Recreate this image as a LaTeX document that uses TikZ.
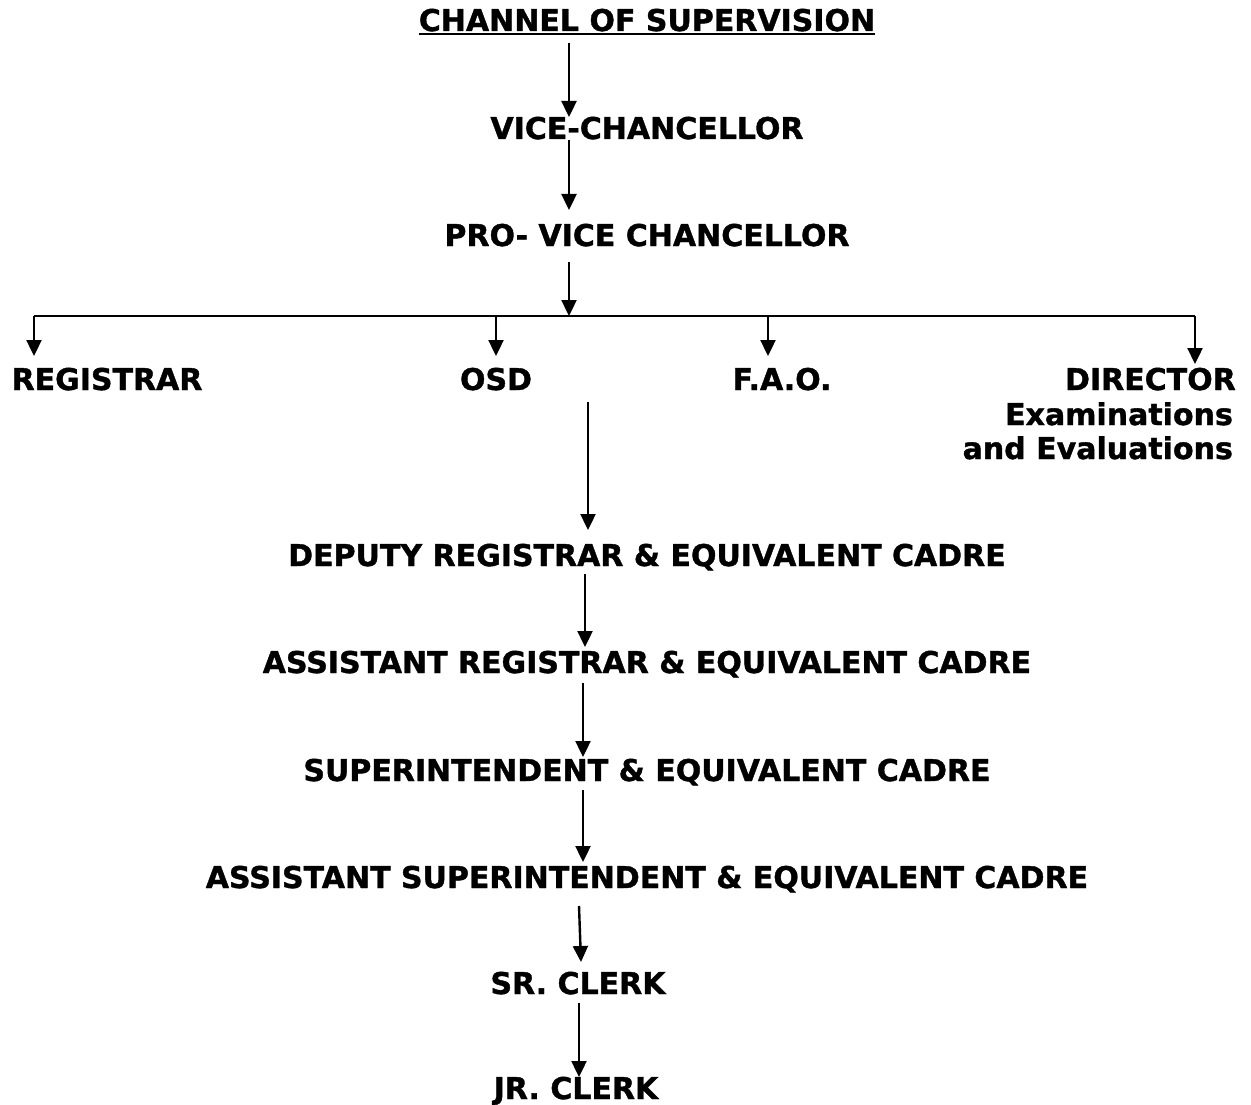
\documentclass[tikz,border=0pt]{standalone}
\usepackage{fontspec}
\setmainfont{DejaVu Sans}[BoldFeatures={FakeBold=1.2}]
\usetikzlibrary{arrows.meta}
\tikzset{
  lbl/.style={font=\bfseries\fontsize{30}{35}\selectfont, inner sep=0pt, anchor=base},
  conn/.style={line width=2.4pt, -{Triangle[length=16pt,width=15pt]}},
  plain/.style={line width=2.2pt}
}
\begin{document}
\begin{tikzpicture}[x=1pt,y=-1pt]
\useasboundingbox (0,0) rectangle (1251,1105);
% texts
\node[lbl] (title) at (647,31) {CHANNEL OF SUPERVISION};
\node[lbl] (vc) at (647,139) {VICE-CHANCELLOR};
\node[lbl] (pvc) at (647,246) {PRO- VICE CHANCELLOR};
\node[lbl] (reg) at (107,390) {REGISTRAR};
\node[lbl] (osd) at (496,390) {OSD};
\node[lbl] (fao) at (782,390) {F.A.O.};
\node[lbl,anchor=base east] (dir) at (1236,390) {DIRECTOR};
\node[lbl,anchor=base east] (dir2) at (1233,425) {Examinations};
\node[lbl,anchor=base east] (dir3) at (1233,459) {and Evaluations};
\node[lbl] (dr) at (647,566) {DEPUTY REGISTRAR \& EQUIVALENT CADRE};
\node[lbl] (ar) at (647,673) {ASSISTANT REGISTRAR \& EQUIVALENT CADRE};
\node[lbl] (sup) at (647,781) {SUPERINTENDENT \& EQUIVALENT CADRE};
\node[lbl] (asup) at (647,888) {ASSISTANT SUPERINTENDENT \& EQUIVALENT CADRE};
\node[lbl] (src) at (578,994) {SR. CLERK};
\node[lbl] (jrc) at (576,1099) {JR. CLERK};
% underline
\draw[plain] (title.base west) ++(0,3) -- ([yshift=-3pt]title.base east);
% coordinates
\coordinate (a1s) at (569,43);  \coordinate (a1e) at (569,117);
\coordinate (a2s) at (569,140); \coordinate (a2e) at (569,210);
\coordinate (a3s) at (569,262); \coordinate (a3e) at (569,316);
\coordinate (hl) at (34,316);   \coordinate (hr) at (1195,316);
\coordinate (osdt) at (496,316);\coordinate (faot) at (768,316);
\coordinate (regh) at (34,356); \coordinate (osdh) at (496,356);
\coordinate (faoh) at (768,356);\coordinate (dirh) at (1195,364);
\coordinate (b1s) at (588,402); \coordinate (b1e) at (588,530);
\coordinate (b2s) at (585,574); \coordinate (b2e) at (585,647);
\coordinate (b3s) at (583,683); \coordinate (b3e) at (583,757);
\coordinate (b4s) at (583,790); \coordinate (b4e) at (583,862);
\coordinate (b5s) at (579,906); \coordinate (b5e) at (581,962);
\coordinate (b6s) at (579,1003);\coordinate (b6e) at (579,1077);
% connectors
\draw[conn] (a1s) -- (a1e);
\draw[conn] (a2s) -- (a2e);
\draw[conn] (a3s) -- (a3e);
\draw[plain] (hl) -- (hr);
\draw[conn] (hl) -- (regh);
\draw[conn] (osdt) -- (osdh);
\draw[conn] (faot) -- (faoh);
\draw[conn] (hr) -- (dirh);
\draw[conn] (b1s) -- (b1e);
\draw[conn] (b2s) -- (b2e);
\draw[conn] (b3s) -- (b3e);
\draw[conn] (b4s) -- (b4e);
\draw[conn] (b5s) -- (b5e);
\draw[conn] (b6s) -- (b6e);
\end{tikzpicture}
\end{document}
